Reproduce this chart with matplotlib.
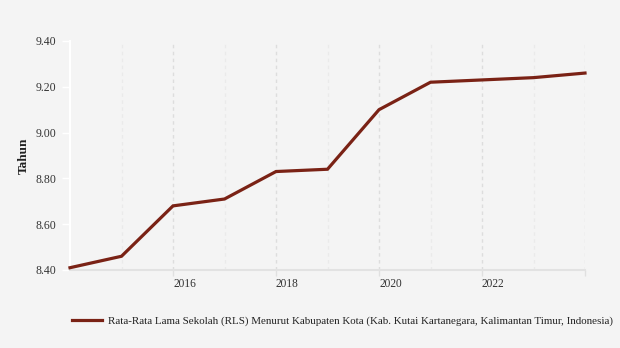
import matplotlib.pyplot as plt
from matplotlib.ticker import MultipleLocator, FixedLocator

years = [2014, 2015, 2016, 2017, 2018, 2019, 2020, 2021, 2022, 2023, 2024]
rls = [8.41, 8.46, 8.68, 8.71, 8.83, 8.84, 9.10, 9.22, 9.23, 9.24, 9.26]
major_years = [2016, 2018, 2020, 2022, 2024]
minor_years = [2015, 2017, 2019, 2021, 2023]
label_years = [2016, 2018, 2020, 2022]
series_name = "Rata-Rata Lama Sekolah (RLS) Menurut Kabupaten Kota (Kab. Kutai Kartanegara, Kalimantan Timur, Indonesia)"

plt.rcParams['font.family'] = ['Liberation Serif', 'DejaVu Serif']
bg = '#f4f4f4'
line_color = '#7a2215'

fig = plt.figure(figsize=(6.2, 3.48), dpi=100, facecolor=bg)
ax = fig.add_axes([70 / 620, 1 - 270 / 348, 515 / 620, 229 / 348], facecolor=bg)

# dotted vertical grid, a bit stronger on even years
for yr in major_years:
    ax.axvline(yr, color='#dddddd', lw=1.0, ls=(0, (2.5, 2.5)), zorder=1)
for yr in minor_years:
    ax.axvline(yr, color='#eaeaea', lw=1.0, ls=(0, (2.5, 2.5)), zorder=1)

ax.plot(years, rls, color=line_color, lw=2.3, solid_joinstyle='miter', zorder=3,
        label=series_name, clip_on=False)

ax.set_xlim(2014, 2024)
ax.set_ylim(8.40, 9.40)
ax.yaxis.set_major_locator(MultipleLocator(0.2))
ax.yaxis.set_major_formatter(plt.FuncFormatter(lambda v, p: f"{v:.2f}"))
ax.xaxis.set_major_locator(FixedLocator(major_years))
ax.set_xticklabels([str(y) if y in label_years else '' for y in major_years])
for lbl in ax.get_xticklabels():
    lbl.set_horizontalalignment('left')

ax.tick_params(axis='y', length=6, width=1, color='white', labelsize=8.5,
               labelcolor='#333333', pad=4)
ax.tick_params(axis='x', length=4, width=1.0, color='#e0e0e0', labelsize=8.3,
               labelcolor='#333333', pad=2)

for side in ['top', 'right']:
    ax.spines[side].set_visible(False)
ax.spines['left'].set_color('white')
ax.spines['left'].set_linewidth(1.5)
ax.spines['bottom'].set_color('#e2e2e2')
ax.spines['bottom'].set_linewidth(1.5)

ax.set_ylabel("Tahun", fontsize=9.5, fontweight='bold', color='#222222', labelpad=2)
ax.yaxis.set_label_coords(-40 / 515, 0.5)

fig.legend(loc='lower left', bbox_to_anchor=(62 / 620, 12 / 348), frameon=False,
           fontsize=7.9, handlelength=2.7, handletextpad=0.6, labelcolor='#222222')

fig.savefig('out.png', dpi=100, facecolor=bg)
